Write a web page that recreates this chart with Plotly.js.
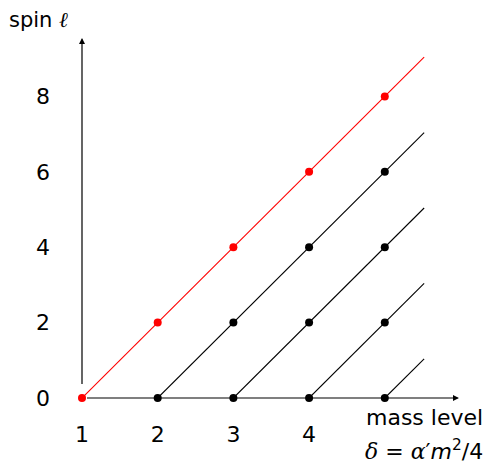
<!DOCTYPE html>
<html>
<head>
<meta charset="utf-8">
<script src="https://cdn.plot.ly/plotly-3.0.1.min.js"></script>
<style>html,body{margin:0;padding:0;background:#fff;}#chart{width:499px;height:469px;}</style>
</head>
<body>
<div id="chart"></div>
<script>
// Leading Regge trajectory (red)
const leadX = [1, 2, 3, 4, 5];
const leadY = [0, 2, 4, 6, 8];
// Daughter states (black)
const daughterX = [2, 3, 4, 5, 3, 4, 5, 4, 5, 5];
const daughterY = [0, 0, 0, 0, 2, 2, 2, 4, 4, 6];
// Trajectory lines: start points and end points
const trajStartX = [1, 2, 3, 4, 5];
const trajStartY = [0, 0, 0, 0, 0];
const trajEndX = [5.52, 5.52, 5.52, 5.52, 5.52];
const trajEndY = [9.04, 7.04, 5.04, 3.04, 1.04];
const trajColors = ['#ff0000', '#000000', '#000000', '#000000', '#000000'];
// Axis ticks
const xTicks = [1, 2, 3, 4];
const xTickText = ['1', '2', '3', '4'];
const yTicks = [0, 2, 4, 6, 8];
const yTickText = ['0', '2', '4', '6', '8'];
const xMax = 5.98, yMax = 9.55;

const FONT = '"DejaVu Sans", sans-serif';
const traces = [];
for (let i = 0; i < trajStartX.length; i++) {
  traces.push({
    x: [trajStartX[i], trajEndX[i]], y: [trajStartY[i], trajEndY[i]],
    mode: 'lines', line: {color: trajColors[i], width: 1.1},
    hoverinfo: 'skip', showlegend: false, cliponaxis: false
  });
}
traces.push({x: daughterX, y: daughterY, mode: 'markers',
  marker: {color: '#000', size: 8}, showlegend: false, cliponaxis: false});
traces.push({x: leadX, y: leadY, mode: 'markers',
  marker: {color: '#ff0000', size: 8}, showlegend: false, cliponaxis: false});

const layout = {
  width: 499, height: 469,
  margin: {l: 82, r: 37, t: 38, b: 71},
  paper_bgcolor: '#fff', plot_bgcolor: '#fff',
  font: {family: FONT, size: 22, color: '#000'},
  showlegend: false,
  xaxis: {range: [1, 6.02], tickvals: xTicks, ticktext: xTickText, ticks: '',
    showgrid: false, zeroline: false, showline: false, ticklabelstandoff: 21, fixedrange: true},
  yaxis: {range: [0, 9.55], tickvals: yTicks, ticktext: yTickText, ticks: '',
    showgrid: false, zeroline: false, showline: false, ticklabelstandoff: 31, fixedrange: true},
  annotations: [
    {x: xMax, y: 0, ax: 1, ay: 0, xref: 'x', yref: 'y', axref: 'x', ayref: 'y',
     showarrow: true, arrowhead: 2, arrowsize: 1, arrowwidth: 1.2, arrowcolor: '#000', text: ' '},
    {x: 1, y: yMax, ax: 1, ay: 0, xref: 'x', yref: 'y', axref: 'x', ayref: 'y',
     showarrow: true, arrowhead: 2, arrowsize: 1, arrowwidth: 1.2, arrowcolor: '#000', text: ' '},
    {x: 0, y: 1, xref: 'paper', yref: 'paper', xshift: -75, yshift: 18,
     xanchor: 'left', yanchor: 'middle', showarrow: false,
     text: 'spin <i style="font-family:\'DejaVu Serif\'">ℓ</i>', font: {size: 21}},
    {x: 5.52, y: 0, xref: 'x', yref: 'y', yshift: -19, xanchor: 'center', yanchor: 'middle',
     showarrow: false, text: 'mass level', font: {size: 22}},
    {x: 5.52, y: 0, xref: 'x', yref: 'y', yshift: -52, xanchor: 'center', yanchor: 'middle',
     showarrow: false,
     text: '<span style="font-family:\'DejaVu Serif\'"><i>δ</i> = <i>α</i>′</span><i>m</i><sup>2</sup>/4',
     font: {size: 22}}
  ]
};
Plotly.newPlot('chart', traces, layout, {displayModeBar: false, staticPlot: true});
</script>
</body>
</html>
